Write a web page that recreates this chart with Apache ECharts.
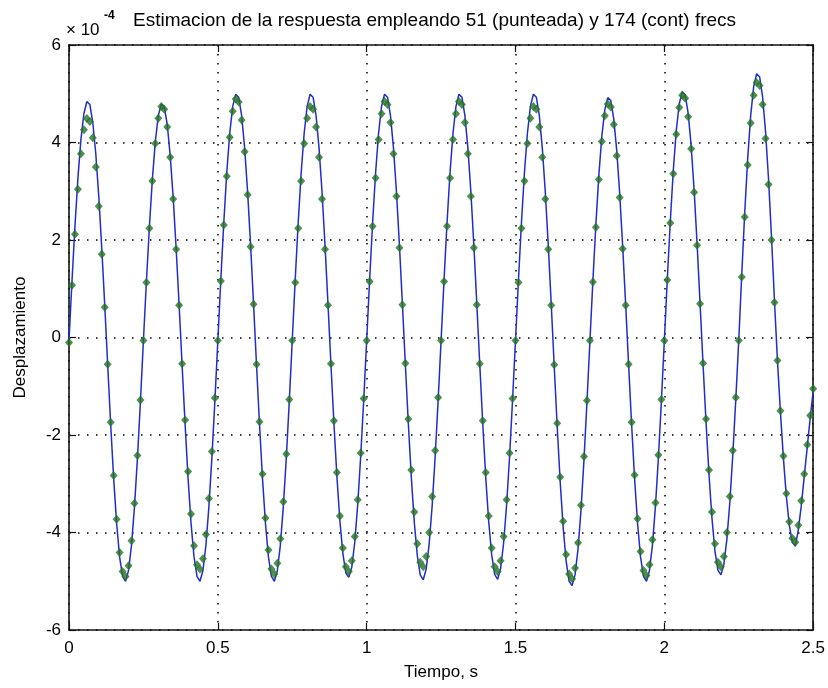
<!DOCTYPE html>
<html><head><meta charset="utf-8">
<script src="https://cdn.jsdelivr.net/npm/echarts/dist/echarts.min.js"></script>
<style>html,body{margin:0;padding:0;background:#fff}#c{width:828px;height:688px}</style>
</head><body><div id="c"></div>
<script>
// sample step of both series (s)
const dt = 0.01;
// continuous estimate, 174 frequencies (x1e-4)
const blue174 = [
-0.06,1.15,2.28,3.27,4.06,4.59,4.84,4.78,4.41,3.77,2.90,1.84,0.67,-0.57,-1.78,-2.89,-3.81,-4.50,-4.90,-5.00,-4.78,-4.26,-3.47,-2.47,-1.31,
-0.06,1.14,2.26,3.24,4.02,4.55,4.79,4.73,4.37,3.73,2.87,1.82,0.66,-0.57,-1.78,-2.89,-3.81,-4.50,-4.90,-5.00,-4.78,-4.26,-3.47,-2.47,-1.31,
-0.07,1.19,2.36,3.38,4.19,4.74,4.99,4.93,4.55,3.89,2.99,1.90,0.69,-0.57,-1.78,-2.89,-3.81,-4.50,-4.90,-5.00,-4.78,-4.26,-3.47,-2.47,-1.31,
-0.06,1.19,2.36,3.38,4.19,4.74,4.99,4.93,4.55,3.89,2.99,1.90,0.69,-0.56,-1.76,-2.85,-3.76,-4.43,-4.83,-4.92,-4.71,-4.20,-3.42,-2.43,-1.29,
-0.06,1.19,2.36,3.38,4.19,4.74,4.99,4.93,4.55,3.89,2.99,1.90,0.69,-0.56,-1.77,-2.87,-3.79,-4.47,-4.87,-4.97,-4.75,-4.23,-3.45,-2.45,-1.30,
-0.06,1.19,2.36,3.38,4.19,4.74,4.99,4.93,4.55,3.89,2.99,1.90,0.69,-0.56,-1.77,-2.87,-3.78,-4.46,-4.86,-4.96,-4.74,-4.22,-3.44,-2.45,-1.29,
-0.06,1.19,2.36,3.38,4.19,4.74,4.99,4.93,4.55,3.89,2.99,1.90,0.69,-0.58,-1.82,-2.95,-3.89,-4.58,-5.00,-5.09,-4.87,-4.34,-3.54,-2.51,-1.33,
-0.07,1.17,2.32,3.33,4.13,4.67,4.92,4.86,4.49,3.84,2.95,1.87,0.68,-0.57,-1.78,-2.89,-3.81,-4.50,-4.90,-5.00,-4.78,-4.26,-3.47,-2.47,-1.31,
-0.06,1.20,2.38,3.42,4.24,4.79,5.04,4.98,4.60,3.94,3.03,1.92,0.70,-0.55,-1.73,-2.81,-3.71,-4.38,-4.77,-4.87,-4.65,-4.14,-3.38,-2.40,-1.27,
-0.06,1.29,2.56,3.67,4.55,5.14,5.41,5.35,4.94,4.22,3.25,2.06,0.75,-0.48,-1.53,-2.48,-3.27,-3.86,-4.20,-4.28,-3.95,-3.45,-2.85,-2.25,-1.65,-1.10
];
// dotted estimate, 51 frequencies (x1e-4)
const green51 = [
-0.10,1.07,2.12,3.04,3.77,4.26,4.49,4.43,4.10,3.50,2.69,1.71,0.62,-0.55,-1.74,-2.83,-3.73,-4.41,-4.80,-4.90,-4.68,-4.17,-3.40,-2.42,-1.28,
-0.06,1.13,2.24,3.21,3.98,4.50,4.74,4.68,4.32,3.70,2.84,1.81,0.66,-0.54,-1.69,-2.75,-3.62,-4.27,-4.66,-4.75,-4.54,-4.04,-3.30,-2.34,-1.24,
-0.06,1.16,2.31,3.31,4.11,4.64,4.89,4.83,4.46,3.81,2.93,1.86,0.68,-0.55,-1.73,-2.80,-3.70,-4.36,-4.75,-4.85,-4.63,-4.13,-3.37,-2.39,-1.27,
-0.06,1.13,2.24,3.21,3.98,4.50,4.74,4.68,4.32,3.70,2.84,1.81,0.66,-0.54,-1.71,-2.77,-3.66,-4.32,-4.70,-4.80,-4.58,-4.08,-3.33,-2.37,-1.25,
-0.06,1.15,2.28,3.27,4.06,4.59,4.84,4.78,4.41,3.77,2.90,1.84,0.67,-0.53,-1.67,-2.72,-3.58,-4.23,-4.61,-4.70,-4.49,-4.00,-3.26,-2.32,-1.23,
-0.06,1.15,2.28,3.27,4.06,4.59,4.84,4.78,4.41,3.77,2.90,1.84,0.67,-0.54,-1.71,-2.77,-3.66,-4.32,-4.70,-4.80,-4.58,-4.08,-3.33,-2.37,-1.25,
-0.06,1.13,2.24,3.21,3.98,4.50,4.74,4.68,4.32,3.70,2.84,1.81,0.66,-0.56,-1.76,-2.86,-3.77,-4.45,-4.85,-4.95,-4.73,-4.21,-3.44,-2.44,-1.29,
-0.06,1.14,2.26,3.24,4.02,4.55,4.79,4.73,4.37,3.73,2.87,1.82,0.66,-0.55,-1.74,-2.82,-3.72,-4.39,-4.78,-4.88,-4.66,-4.15,-3.39,-2.41,-1.27,
-0.06,1.18,2.35,3.36,4.17,4.72,4.97,4.91,4.53,3.87,2.98,1.89,0.69,-0.53,-1.67,-2.72,-3.58,-4.23,-4.61,-4.70,-4.49,-4.00,-3.26,-2.32,-1.23,
-0.06,1.24,2.47,3.54,4.40,4.97,5.23,5.17,4.78,4.08,3.14,2.00,0.72,-0.47,-1.50,-2.43,-3.20,-3.78,-4.12,-4.20,-3.85,-3.35,-2.80,-2.20,-1.60,-1.05
];
const xRange = [0, 2.5], xStep = 0.5;
const yRange = [-6, 6], yStep = 2;
const titleText = 'Estimacion de la respuesta empleando 51 (punteada) y 174 (cont) frecs';
const xLabel = 'Tiempo, s';
const yLabel = 'Desplazamiento';
const expBase = '× 10', expPow = '-4';

const pairs = arr => arr.map((v, i) => [Math.round(i * dt * 100) / 100, v]);
const FONT = 'Liberation Sans, Arial, sans-serif';
const axisLineStyle = {color: '#111', width: 1.6};
const tickStyle = {show: true, inside: true, length: 7, lineStyle: {color: '#111', width: 1.2}};
const gridDot = {show: true, lineStyle: {color: '#000', width: 1.5, type: [1.5, 7.5]}};

const chart = echarts.init(document.getElementById('c'), null, {renderer: 'canvas'});
chart.setOption({
  animation: false,
  backgroundColor: '#fff',
  grid: {left: 69, top: 45, width: 745, height: 585, show: false},
  graphic: [
    {type: 'text', left: 133, top: 11, z: 10,
     style: {text: titleText, font: '19px ' + FONT, fill: '#000'}},
    {type: 'text', left: 66, top: 22, style: {text: expBase, font: '17px ' + FONT, fill: '#000'}},
    {type: 'text', left: 104, top: 10, style: {text: expPow, font: 'bold 12px ' + FONT, fill: '#000'}}
  ],
  xAxis: [
    {type: 'value', min: xRange[0], max: xRange[1], interval: xStep, position: 'bottom',
     axisLine: {show: true, onZero: false, lineStyle: axisLineStyle},
     axisTick: tickStyle,
     axisLabel: {fontSize: 17, color: '#000', margin: 10, fontFamily: FONT},
     splitLine: gridDot,
     name: xLabel, nameLocation: 'middle', nameGap: 34,
     nameTextStyle: {fontSize: 17, color: '#000', fontFamily: FONT}},
    {type: 'value', min: xRange[0], max: xRange[1], interval: xStep, position: 'top',
     axisLine: {show: true, onZero: false, lineStyle: axisLineStyle},
     axisTick: tickStyle, axisLabel: {show: false}, splitLine: {show: false}}
  ],
  yAxis: [
    {type: 'value', min: yRange[0], max: yRange[1], interval: yStep, position: 'left',
     axisLine: {show: true, onZero: false, lineStyle: axisLineStyle},
     axisTick: tickStyle,
     axisLabel: {fontSize: 17, color: '#000', margin: 8, fontFamily: FONT},
     splitLine: gridDot,
     name: yLabel, nameLocation: 'middle', nameGap: 40,
     nameTextStyle: {fontSize: 17, color: '#000', fontFamily: FONT}},
    {type: 'value', min: yRange[0], max: yRange[1], interval: yStep, position: 'right',
     axisLine: {show: true, onZero: false, lineStyle: axisLineStyle},
     axisTick: tickStyle, axisLabel: {show: false}, splitLine: {show: false}}
  ],
  series: [
    {name: '174 (cont)', type: 'line', xAxisIndex: 0, yAxisIndex: 0, data: pairs(blue174),
     showSymbol: false, symbol: 'none', lineStyle: {color: '#1f2ec8', width: 1.5}, z: 3},
    {name: '51 (punteada)', type: 'scatter', xAxisIndex: 0, yAxisIndex: 0, data: pairs(green51),
     symbol: 'diamond', symbolSize: [8, 9], itemStyle: {color: '#267326'}, z: 4}
  ]
});
</script>
</body></html>
